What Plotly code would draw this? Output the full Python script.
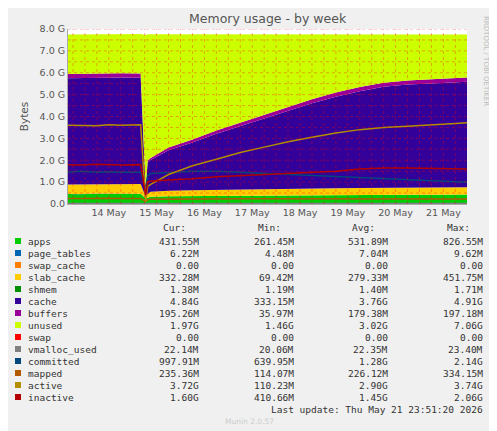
import plotly.graph_objects as go
import pandas as pd

times = ["2026-05-13 15:30","2026-05-13 21:00","2026-05-14 06:00","2026-05-14 12:00","2026-05-14 18:00",
         "2026-05-15 04:00","2026-05-15 06:30","2026-05-15 07:30","2026-05-15 09:00","2026-05-15 18:00",
         "2026-05-16 06:00","2026-05-16 18:00","2026-05-17 06:00","2026-05-17 18:00","2026-05-18 06:00",
         "2026-05-18 18:00","2026-05-19 06:00","2026-05-19 18:00","2026-05-20 06:00","2026-05-20 18:00",
         "2026-05-21 06:00","2026-05-21 18:00","2026-05-21 23:51"]
G = 1024**3
apps = [0.46,0.45,0.47,0.46,0.45,0.46,0.26,0.30,0.33,0.35,0.36,0.37,0.38,0.38,0.39,0.40,0.40,0.41,0.41,0.42,0.42,0.43,0.43]
page_tables = [0.007]*6 + [0.004] + [0.006]*16
swap_cache = [0.0]*23
slab_cache = [0.42,0.43,0.44,0.43,0.44,0.45,0.07,0.15,0.22,0.25,0.26,0.27,0.28,0.29,0.29,0.30,0.31,0.31,0.32,0.32,0.33,0.33,0.33]
shmem = [0.0014]*23
cache = [4.86,4.87,4.85,4.90,4.88,4.85,0.35,1.45,1.45,1.85,2.18,2.56,2.89,3.23,3.57,3.90,4.19,4.43,4.62,4.71,4.75,4.79,4.82]
buffers = [0.20,0.20,0.20,0.20,0.20,0.20,0.04,0.08,0.10,0.12,0.14,0.15,0.16,0.17,0.18,0.18,0.19,0.19,0.19,0.19,0.195,0.195,0.195]
unused = [1.80,1.79,1.80,1.76,1.78,1.80,7.00,5.77,5.65,5.18,4.81,4.40,4.04,3.68,3.32,2.97,2.66,2.41,2.21,2.11,2.06,2.00,1.97]
swap = [0.0]*23
vmalloc_used = [0.022]*23
committed = [1.45,1.50,1.45,1.48,1.45,1.45,0.70,1.30,1.40,1.45,1.50,1.50,1.45,1.40,1.35,1.30,1.25,1.20,1.15,1.10,1.05,1.00,1.00]
mapped = [0.25,0.26,0.25,0.26,0.25,0.25,0.12,0.20,0.22,0.23,0.23,0.24,0.24,0.24,0.24,0.25,0.25,0.25,0.24,0.24,0.24,0.23,0.23]
active = [3.60,3.60,3.58,3.62,3.60,3.62,0.10,0.80,0.90,1.35,1.75,2.05,2.35,2.60,2.85,3.05,3.25,3.40,3.50,3.55,3.60,3.68,3.72]
inactive = [1.80,1.78,1.82,1.80,1.78,1.80,0.40,1.00,1.05,1.10,1.15,1.25,1.30,1.35,1.40,1.45,1.50,1.60,1.65,1.65,1.62,1.62,1.60]

areas = [("apps",apps,"#00CC00"),("page_tables",page_tables,"#0066B3"),("swap_cache",swap_cache,"#FF8000"),
         ("slab_cache",slab_cache,"#FFCC00"),("shmem",shmem,"#008F00"),("cache",cache,"#330099"),
         ("buffers",buffers,"#990099"),("unused",unused,"#CCFF00"),("swap",swap,"#FF0000")]
lines = [("vmalloc_used",vmalloc_used,"#808080"),("committed",committed,"#00487D"),("mapped",mapped,"#B35A00"),
         ("active",active,"#B38F00"),("inactive",inactive,"#B30000")]
stats = [("431.55M","261.45M","531.89M","826.55M"),("6.22M","4.48M","7.04M","9.62M"),("0.00","0.00","0.00","0.00"),
         ("332.28M","69.42M","279.33M","451.75M"),("1.38M","1.19M","1.40M","1.71M"),("4.84G","333.15M","3.76G","4.91G"),
         ("195.26M","35.97M","179.38M","197.18M"),("1.97G","1.46G","3.02G","7.06G"),("0.00","0.00","0.00","0.00"),
         ("22.14M","20.06M","22.35M","23.40M"),("997.91M","639.95M","1.28G","2.14G"),("235.36M","114.07M","226.12M","334.15M"),
         ("3.72G","110.23M","2.90G","3.74G"),("1.60G","410.66M","1.45G","2.06G")]
day_labels = ["14 May","15 May","16 May","17 May","18 May","19 May","20 May","21 May"]
ytick_labels = ["0.0","1.0 G","2.0 G","3.0 G","4.0 G","5.0 G","6.0 G","7.0 G","8.0 G"]

t = pd.to_datetime(times)
fig = go.Figure()
for n, v, c in areas:
    fig.add_trace(go.Scatter(x=t, y=[a*G for a in v], name=n, stackgroup="s", mode="lines",
                             line=dict(width=0, color=c), fillcolor=c))
for n, v, c in lines:
    fig.add_trace(go.Scatter(x=t, y=[a*G for a in v], name=n, mode="lines", line=dict(width=1.5, color=c)))

W, H = 497, 431
OX, OY = 7, 7
L, R, T, B = 67 - OX, 466 - OX, 28 - OY, 203 - OY
def px(x): return (x - OX - L) / (R - L)
def py(y): return (B - (y - OY)) / (B - T)

x0, x1 = pd.Timestamp("2026-05-13 15:30"), pd.Timestamp("2026-05-21 23:51")
shapes = []
for k in range(1, 17):
    yv = k * 0.5 * G
    shapes.append(dict(type="line", xref="paper", yref="y", x0=0, x1=1, y0=yv, y1=yv, layer="above",
                       line=dict(color="rgba(255,0,0,0.35)", width=1, dash="dot")))
tt = pd.Timestamp("2026-05-13 18:00")
while tt < x1:
    shapes.append(dict(type="line", xref="x", yref="paper", x0=tt, x1=tt, y0=0, y1=1, layer="above",
                       line=dict(color="rgba(255,0,0,0.35)", width=1, dash="dot")))
    tt += pd.Timedelta(hours=6)

ann = []
mono = dict(family="DejaVu Sans Mono", size=9.5, color="#333")
def A(text, x, y, xa="center", font=mono, **kw):
    ann.append(dict(text=text, x=x, y=y, xref="paper", yref="paper", showarrow=False, xanchor=xa,
                    yanchor="middle", borderpad=0, font=font, **kw))
A("Memory usage - by week", 0.5, py(18), font=dict(family="DejaVu Sans", size=12.5, color="#555"))
A("RRDTOOL / TOBI OETIKER", px(485), py(60), font=dict(family="DejaVu Sans", size=7, color="#bbb"), textangle=90)
for hx, h in zip([186, 281, 375, 470], ["Cur:", "Min:", "Avg:", "Max:"]):
    A(h, px(hx), py(226), xa="right")
rows = areas + lines
for i, ((n, v, c), st) in enumerate(zip(rows, stats)):
    yy = 240 + i * 12
    shapes.append(dict(type="rect", xref="paper", yref="paper", x0=px(14), x1=px(20), y0=py(yy - 3), y1=py(yy + 3),
                       fillcolor=c, line=dict(width=0)))
    A(n, px(26), py(yy), xa="left")
    for hx, s in zip([199, 294, 388, 483], st):
        A(s, px(hx), py(yy), xa="right")
A("Last update: Thu May 21 23:51:20 2026", px(483), py(408), xa="right")
A("Munin 2.0.57", px(248), py(420), font=dict(family="DejaVu Sans", size=7.5, color="#ccc"))

fig.update_layout(width=W, height=H, margin=dict(l=L, r=W - R, t=T, b=H - B), paper_bgcolor="#F0F0F0",
                  plot_bgcolor="white", showlegend=False, shapes=shapes, annotations=ann,
                  xaxis=dict(range=[x0, x1], tickvals=pd.date_range("2026-05-14 12:00", periods=8, freq="D"),
                             ticktext=day_labels, showgrid=False, ticks="", tickfont=dict(family="DejaVu Sans", size=9.5, color="#555"),
                             showline=True, linecolor="#aaa"),
                  yaxis=dict(range=[0, 8.0 * G], tickvals=[k * G for k in range(9)], ticktext=ytick_labels, showgrid=False,
                             title=dict(text="Bytes", standoff=8, font=dict(family="DejaVu Sans", size=10.5, color="#555")),
                             ticks="", tickfont=dict(family="DejaVu Sans", size=9.5, color="#555"), showline=True, linecolor="#aaa"))
fig.write_html("out.html")
